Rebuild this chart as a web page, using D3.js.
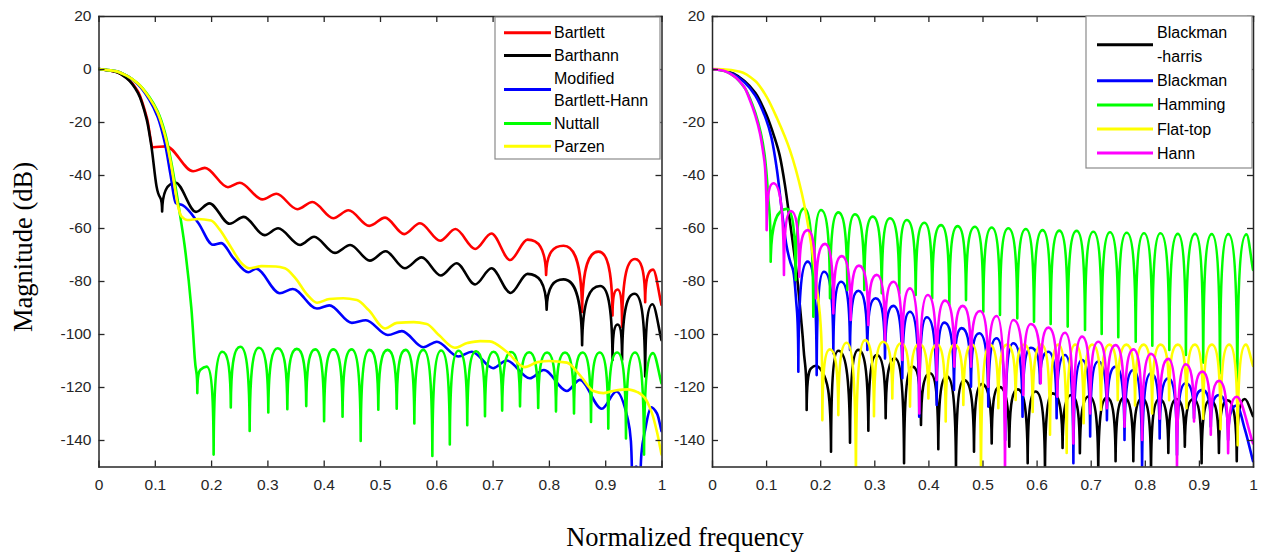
<!DOCTYPE html>
<html><head><meta charset="utf-8">
<script src="https://cdn.jsdelivr.net/npm/d3@7"></script>
<style>body{margin:0;background:#fff}svg{display:block}</style>
</head><body>
<svg id="c" width="1265" height="553"></svg>
<script>
// ---------------- data ----------------
const xTicks = [0,0.1,0.2,0.3,0.4,0.5,0.6,0.7,0.8,0.9,1];
const xTickLabels = ["0","0.1","0.2","0.3","0.4","0.5","0.6","0.7","0.8","0.9","1"];
const yTicks = [-140,-120,-100,-80,-60,-40,-20,0,20];
const yTickLabels = ["-140","-120","-100","-80","-60","-40","-20","0","20"];
const xLabel = "Normalized frequency";
const yLabel = "Magnitude (dB)";

const leftLegend = [["Bartlett"],["Barthann"],["Modified","Bartlett-Hann"],["Nuttall"],["Parzen"]];
const leftColors = ["#ff0000","#000000","#0000ff","#00ff00","#ffff00"];
const rightLegend = [["Blackman","-harris"],["Blackman"],["Hamming"],["Flat-top"],["Hann"]];
const rightColors = ["#000000","#0000ff","#00ff00","#ffff00","#ff00ff"];

// [normalized frequency, magnitude dB]
const bartlett = [[0,0],[0.03,-1],[0.05,-3.3],[0.07,-8.5],[0.086,-18.5],[0.097,-29.5],[0.12,-29.2],[0.168,-38.6],[0.189,-37.3],[0.23,-44.6],[0.251,-42.9],[0.291,-49.2],[0.316,-47.1],[0.353,-52.9],[0.38,-50.2],[0.417,-56.3],[0.444,-53.3],[0.481,-59.2],[0.509,-56.1],[0.543,-62.3],[0.571,-58.2],[0.607,-64.8],[0.634,-60.4],[0.669,-67.9],[0.698,-62.1],[0.731,-72.1],[0.762,-64.4],[0.795,-77.7],[0.826,-66.7],[0.859,-91.7],[0.888,-68.9],[0.913,-93],[0.922,-83.2],[0.930,-97.3],[0.953,-71.7],[0.971,-88],[0.985,-75.7],[1.0,-89]];

const barthann = [[0,0],[0.03,-1],[0.05,-3.5],[0.07,-9],[0.0856,-19],[0.094,-29.2],[0.103,-44.2],[0.113,-53.8],[0.137,-42.9],[0.173,-53.9],[0.197,-50.7],[0.233,-58.4],[0.258,-55.8],[0.295,-62.7],[0.319,-60.1],[0.358,-66.4],[0.383,-63.3],[0.42,-69.4],[0.447,-66.4],[0.482,-72.3],[0.51,-68.8],[0.544,-75.2],[0.574,-71.1],[0.608,-77.9],[0.636,-73.3],[0.669,-81.3],[0.698,-75.2],[0.732,-84.5],[0.762,-77.3],[0.796,-90.8],[0.826,-79.4],[0.859,-104.2],[0.891,-81.9],[0.913,-109.8],[0.922,-96.4],[0.930,-109.8],[0.952,-84.8],[0.971,-116],[0.984,-88.8],[1.0,-102.3]];

const modBartlettHann = [[0,0],[0.03,-0.8],[0.05,-2.5],[0.07,-5.8],[0.09,-11.5],[0.105,-18],[0.118,-28],[0.128,-40],[0.137,-50.5],[0.15,-51.5],[0.177,-58],[0.203,-66.3],[0.218,-65.7],[0.24,-71.5],[0.266,-76.7],[0.28,-75.4],[0.322,-84.6],[0.345,-83],[0.388,-90.4],[0.41,-89.2],[0.45,-95.8],[0.475,-94.8],[0.514,-100.4],[0.539,-98.9],[0.577,-105],[0.601,-102.9],[0.639,-108.5],[0.663,-106.7],[0.701,-112.9],[0.725,-110],[0.766,-116.7],[0.791,-113.6],[0.832,-121.5],[0.855,-117.3],[0.894,-128.2],[0.92,-121.7],[0.94,-132],[0.948,-165],[0.955,-150],[0.962,-165],[0.972,-135],[0.982,-127.7],[0.992,-130],[1.0,-136.7]];

const nuttall = [[0,0],[0.03,-0.8],[0.05,-2.5],[0.07,-5.5],[0.09,-10.5],[0.105,-16],[0.118,-24],[0.13,-36],[0.141,-50],[0.153,-66.7],[0.165,-90.4],[0.171,-109.2],[0.1755,-122.3],[0.181,-113.5],[0.192,-112.3],[0.2045,-145.5],[0.2198,-106.7],[0.235,-127.7],[0.2518,-104.8],[0.2685,-136.6],[0.2851,-105.2],[0.3016,-129.6],[0.3185,-105.4],[0.3354,-128.4],[0.3522,-105.6],[0.369,-127.2],[0.3849,-105.8],[0.4007,-132.9],[0.4171,-105.8],[0.4335,-131.2],[0.4496,-105.8],[0.4657,-140.4],[0.4814,-106],[0.497,-128.6],[0.5134,-106],[0.5297,-128.2],[0.5454,-106],[0.561,-133.8],[0.577,-106],[0.593,-146],[0.6085,-106.2],[0.624,-141.7],[0.6395,-106.3],[0.655,-134.4],[0.6708,-106.5],[0.6865,-131],[0.7018,-106.7],[0.717,-128.9],[0.7329,-106.8],[0.7487,-127.3],[0.7649,-106.9],[0.781,-127.9],[0.7968,-107],[0.8126,-129.2],[0.8286,-107],[0.8446,-130],[0.8597,-107],[0.8748,-133.2],[0.8902,-107],[0.9055,-135.7],[0.9212,-107],[0.9369,-139.4],[0.953,-107],[0.969,-145.5],[0.985,-107.2],[1.0,-118.6]];

const parzen = [[0,0],[0.03,-0.8],[0.05,-2.5],[0.07,-5.5],[0.09,-10.8],[0.105,-16.5],[0.118,-25],[0.128,-35],[0.135,-44],[0.141,-51.5],[0.147,-55.5],[0.158,-57],[0.177,-56.6],[0.2,-57.2],[0.215,-60.5],[0.236,-67.5],[0.255,-73.5],[0.268,-75.2],[0.29,-74.4],[0.315,-74.5],[0.331,-75.2],[0.35,-79],[0.37,-85],[0.388,-88.2],[0.41,-86.8],[0.435,-86.5],[0.459,-87.2],[0.48,-91],[0.509,-97.9],[0.53,-95.8],[0.56,-95.5],[0.583,-96.2],[0.605,-100.5],[0.633,-105.2],[0.655,-103.4],[0.678,-102.7],[0.695,-102.8],[0.725,-106.7],[0.757,-112.5],[0.78,-110.6],[0.8,-110.2],[0.832,-110.8],[0.855,-115.5],[0.879,-121.5],[0.897,-122.3],[0.92,-121.2],[0.94,-120.9],[0.958,-122],[0.97,-124],[0.982,-129.2],[0.992,-137],[1.0,-145.5]];

const blackmanHarris = [[0,0],[0.02,-0.4],[0.04,-1.8],[0.06,-4.5],[0.08,-9],[0.1,-17],[0.115,-25.5],[0.125,-32.5],[0.135,-44],[0.145,-59],[0.1565,-77],[0.165,-95],[0.169,-104.8],[0.175,-128.7],[0.183,-113],[0.192,-112],[0.203,-114],[0.22,-144.4],[0.2335,-106.3],[0.2551,-141],[0.2705,-106],[0.289,-136.5],[0.3045,-107.9],[0.321,-131.8],[0.338,-109.2],[0.355,-148.8],[0.3707,-112.3],[0.3863,-134.3],[0.403,-114.8],[0.4183,-143.5],[0.434,-116],[0.451,-152],[0.466,-117.4],[0.4843,-144.4],[0.499,-118.9],[0.517,-141.3],[0.531,-119.9],[0.5495,-142.5],[0.565,-120.9],[0.5835,-148.8],[0.598,-121.7],[0.6155,-152],[0.63,-122.4],[0.648,-143],[0.664,-123],[0.68,-145],[0.697,-123.5],[0.714,-152],[0.73,-124],[0.746,-148],[0.762,-124],[0.7788,-148],[0.795,-124.3],[0.8115,-152],[0.827,-124.5],[0.8435,-144.9],[0.859,-124.5],[0.874,-142.5],[0.89,-124.5],[0.905,-148.8],[0.921,-124.8],[0.937,-144.9],[0.953,-125],[0.97,-148],[0.985,-124.5],[1.0,-131]];

const blackman = [[0,0],[0.02,-0.5],[0.04,-2],[0.06,-5],[0.08,-10],[0.1,-19],[0.11,-26],[0.12,-38],[0.13,-55],[0.138,-67],[0.145,-73],[0.15,-76],[0.155,-86],[0.1596,-114.2],[0.1769,-72.7],[0.1935,-115.5],[0.207,-76.5],[0.2243,-107.3],[0.2385,-80.3],[0.2551,-106],[0.2705,-83.7],[0.2871,-106],[0.3026,-86.5],[0.3198,-109.2],[0.3351,-89.4],[0.3518,-116.7],[0.366,-91.6],[0.383,-131.2],[0.397,-93.7],[0.4153,-126.8],[0.4294,-95.7],[0.4473,-121.1],[0.4615,-97.8],[0.4787,-119.9],[0.494,-99.7],[0.5107,-127.4],[0.526,-101.6],[0.542,-140],[0.557,-103.5],[0.574,-131.2],[0.5896,-105.2],[0.6063,-118.6],[0.6217,-106.7],[0.637,-131.8],[0.6525,-107.9],[0.668,-148.8],[0.684,-109.8],[0.699,-138.7],[0.714,-110.4],[0.73,-132.5],[0.746,-112.3],[0.7625,-140],[0.779,-113.6],[0.795,-152],[0.8115,-114.8],[0.8275,-139.4],[0.8435,-116.7],[0.8595,-145.7],[0.8756,-118.6],[0.891,-131.8],[0.9063,-121.1],[0.922,-135],[0.9372,-123],[0.954,-140],[0.97,-127],[0.985,-136],[1.0,-148]];

const hamming = [[0,0],[0.02,-0.6],[0.04,-2.6],[0.06,-7],[0.07,-11],[0.08,-16.5],[0.09,-24],[0.097,-32],[0.1035,-47],[0.1085,-72.7],[0.138,-52.8],[0.1547,-79.6],[0.1706,-52.6],[0.1873,-93.5],[0.2015,-53.2],[0.2181,-86.5],[0.2335,-54.1],[0.2501,-83.4],[0.2643,-54.8],[0.2815,-83.4],[0.297,-55.7],[0.3137,-84.6],[0.329,-56.3],[0.3462,-84.6],[0.36,-57],[0.3765,-85.3],[0.3925,-58],[0.407,-86.5],[0.4233,-58.9],[0.4387,-89],[0.454,-59.3],[0.4695,-87.2],[0.486,-59.5],[0.5015,-91.6],[0.517,-59.8],[0.5323,-92.8],[0.5477,-60.1],[0.5643,-94.1],[0.58,-60.4],[0.5952,-95.4],[0.611,-60.8],[0.626,-96.2],[0.642,-61],[0.6575,-97.2],[0.674,-61.1],[0.6895,-98.5],[0.7048,-61.4],[0.7203,-100],[0.7357,-61.6],[0.751,-101.2],[0.7665,-61.8],[0.7832,-102.9],[0.7985,-62],[0.8139,-104.4],[0.829,-62],[0.8453,-106],[0.861,-62.2],[0.876,-107.9],[0.893,-62.2],[0.908,-110.8],[0.9237,-62.3],[0.939,-114.8],[0.9544,-62.3],[0.971,-120.5],[0.988,-62.4],[1.0,-75.8]];

const flatTop = [[0,0],[0.02,-0.1],[0.052,-1],[0.08,-4.5],[0.101,-10.5],[0.12,-18.5],[0.144,-30.6],[0.166,-46.9],[0.184,-67],[0.1965,-87.2],[0.201,-97.2],[0.204,-132.5],[0.218,-105.8],[0.2335,-130.6],[0.249,-103.3],[0.266,-155],[0.283,-102.3],[0.2994,-131],[0.3167,-102.9],[0.3333,-124.3],[0.3497,-103.5],[0.366,-127.4],[0.383,-103.8],[0.4,-124.3],[0.416,-104],[0.432,-133],[0.4483,-104],[0.4646,-126.8],[0.481,-104],[0.4972,-155],[0.5133,-104],[0.5293,-128],[0.5453,-104],[0.5613,-124.9],[0.577,-104],[0.5928,-129.4],[0.6088,-104],[0.6248,-138],[0.6402,-104],[0.6556,-144.9],[0.6713,-104],[0.687,-133.7],[0.703,-104],[0.719,-128.6],[0.7345,-104],[0.75,-125],[0.766,-104],[0.782,-127],[0.7978,-104],[0.8135,-130],[0.8293,-104],[0.845,-125],[0.861,-104],[0.877,-128],[0.8925,-104],[0.908,-132],[0.924,-104],[0.94,-135.9],[0.956,-104],[0.9717,-142],[0.987,-104],[1.0,-112]];

const hann = [[0,0],[0.02,-0.6],[0.04,-2.6],[0.06,-7],[0.07,-11.7],[0.08,-17.5],[0.0887,-24.3],[0.095,-32],[0.098,-37],[0.1,-46],[0.101,-60.8],[0.1134,-43.1],[0.133,-77.7],[0.146,-53.6],[0.1614,-78.4],[0.1769,-60.8],[0.1922,-86.5],[0.2089,-66],[0.2243,-92.2],[0.2397,-70.6],[0.2564,-94.7],[0.2717,-74.2],[0.2889,-96.6],[0.3045,-77.7],[0.3198,-102.3],[0.3351,-80.3],[0.3518,-109.8],[0.366,-82.8],[0.3832,-130],[0.3987,-85.3],[0.4153,-117.4],[0.4307,-87.4],[0.4479,-112.3],[0.4634,-89.4],[0.4787,-112.3],[0.4954,-91.3],[0.5107,-119.9],[0.5262,-93.2],[0.5416,-155],[0.557,-94.7],[0.5755,-123],[0.5896,-96.2],[0.6076,-118.6],[0.6217,-97.6],[0.6383,-123.7],[0.6525,-99.5],[0.668,-141.3],[0.684,-101],[0.699,-130],[0.714,-102.9],[0.73,-128],[0.746,-104.2],[0.7625,-135],[0.779,-105.8],[0.795,-140],[0.8115,-107.5],[0.8275,-132],[0.8435,-109.4],[0.8595,-152],[0.8756,-111.4],[0.891,-133],[0.9063,-114.2],[0.922,-138],[0.9372,-117.7],[0.954,-145],[0.97,-123.7],[1.0,-141.3]];

const leftSeries = [bartlett, barthann, modBartlettHann, nuttall, parzen];
const rightSeries = [blackmanHarris, blackman, hamming, flatTop, hann];

// ---------------- drawing ----------------
const svg = d3.select("#c");
const y = d3.scaleLinear().domain([-150, 20]).range([466.5, 16]);
const axisColor = "#262626";
const tickFont = "'Liberation Sans', Arial, sans-serif";
const serif = "'Liberation Serif', 'Times New Roman', serif";

// curve: smooth (monotone-like) with sharp cusps at deep nulls
function CurveLobes(ctx) { this._ctx = ctx; }
CurveLobes.prototype = {
  areaStart() {}, areaEnd() {},
  lineStart() { this._p = []; },
  point(px, py) { this._p.push([+px, +py]); },
  lineEnd() {
    const p = this._p, n = p.length, c = this._ctx;
    if (!n) return;
    const T = y(-8) - y(0);
    const cusp = p.map((d, i) => i > 0 && i < n - 1 && d[1] - p[i-1][1] > T && d[1] - p[i+1][1] > T);
    const sl = i => (p[i+1][1] - p[i][1]) / (p[i+1][0] - p[i][0]);
    const m = p.map((d, i) => {
      if (n < 2) return 0;
      if (i === 0) return sl(0);
      if (i === n - 1) return sl(n - 2);
      const s0 = sl(i - 1), s1 = sl(i);
      if (s0 * s1 <= 0) return 0;
      return 2 * s0 * s1 / (s0 + s1);
    });
    c.moveTo(p[0][0], p[0][1]);
    for (let i = 0; i < n - 1; i++) {
      const [x0, y0] = p[i], [x1, y1] = p[i+1], dx = x1 - x0;
      let c1, c2;
      if (cusp[i]) c1 = [x0 + 0.03 * dx, y0 + 0.8 * (y1 - y0)];
      else { const k = cusp[i+1] ? 0.55 : 1/3; c1 = [x0 + k * dx, y0 + m[i] * k * dx]; }
      if (cusp[i+1]) c2 = [x1 - 0.03 * dx, y1 + 0.8 * (y0 - y1)];
      else { const k = cusp[i] ? 0.55 : 1/3; c2 = [x1 - k * dx, y1 - m[i+1] * k * dx]; }
      const lo = Math.min(y0, y1), hi = Math.max(y0, y1);
      c1[1] = Math.max(lo, Math.min(hi, c1[1]));
      c2[1] = Math.max(lo, Math.min(hi, c2[1]));
      c.bezierCurveTo(c1[0], c1[1], c2[0], c2[1], x1, y1);
    }
  }
};
const curveLobes = ctx => new CurveLobes(ctx);

function panel(id, x0, x1, series, colors, legend, leg) {
  const x = d3.scaleLinear().domain([0, 1]).range([x0, x1]);
  const top = y(20), bot = y(-150);
  svg.append("clipPath").attr("id", "clip" + id)
    .append("rect").attr("x", x0).attr("y", top).attr("width", x1 - x0).attr("height", bot - top);
  const g = svg.append("g");
  const lines = g.append("g").attr("clip-path", `url(#clip${id})`);
  const line = d3.line().x(d => x(d[0])).y(d => y(d[1])).curve(curveLobes);
  series.forEach((s, i) => {
    lines.append("path").attr("d", line(s)).attr("fill", "none")
      .attr("stroke", colors[i]).attr("stroke-width", 2.6)
      .attr("stroke-linejoin", "round").attr("stroke-linecap", "round");
  });

  const fmtX = (d) => xTickLabels[xTicks.indexOf(d)];
  const fmtY = (d) => yTickLabels[yTicks.indexOf(d)];
  const style = sel => {
    sel.selectAll("path.domain").attr("stroke", axisColor).attr("stroke-width", 1.5);
    sel.selectAll(".tick line").attr("stroke", axisColor).attr("stroke-width", 1.3);
    sel.selectAll("text").attr("fill", axisColor).style("font-family", tickFont).style("font-size", "15.5px");
  };
  g.append("g").attr("transform", `translate(0,${bot})`)
    .call(d3.axisBottom(x).tickValues(xTicks).tickFormat(fmtX).tickSizeInner(-6).tickSizeOuter(0).tickPadding(12)).call(style);
  g.append("g").attr("transform", `translate(0,${top})`)
    .call(d3.axisTop(x).tickValues(xTicks).tickFormat("").tickSizeInner(-6).tickSizeOuter(0)).call(style);
  g.append("g").attr("transform", `translate(${x0},0)`)
    .call(d3.axisLeft(y).tickValues(yTicks).tickFormat(fmtY).tickSizeInner(-6).tickSizeOuter(0).tickPadding(7)).call(style);
  g.append("g").attr("transform", `translate(${x1},0)`)
    .call(d3.axisRight(y).tickValues(yTicks).tickFormat("").tickSizeInner(-6).tickSizeOuter(0)).call(style);
  g.selectAll(".domain").attr("stroke-linecap", "square");

  // legend
  const lg = g.append("g");
  lg.append("rect").attr("x", leg.x).attr("y", leg.y).attr("width", leg.w).attr("height", leg.h)
    .attr("fill", "#fff").attr("stroke", "#8a8a8a").attr("stroke-width", 1.2);
  let row = 0;
  legend.forEach((lines_, i) => {
    const yc = leg.row0 + (row + (lines_.length - 1) / 2) * leg.pitch;
    lg.append("line").attr("x1", leg.lx0).attr("x2", leg.lx1).attr("y1", yc).attr("y2", yc)
      .attr("stroke", colors[i]).attr("stroke-width", 3);
    lines_.forEach((t, k) => {
      lg.append("text").attr("x", leg.tx).attr("y", leg.row0 + (row + k) * leg.pitch)
        .attr("dy", "0.35em").attr("fill", "#000")
        .style("font-family", tickFont).style("font-size", "16px").text(t);
    });
    row += lines_.length;
  });
}

panel("L", 98.5, 661.5, leftSeries, leftColors, leftLegend,
  {x: 495, y: 17, w: 165, h: 142, lx0: 504, lx1: 551, tx: 554, row0: 32.7, pitch: 22.7});
panel("R", 712, 1253, rightSeries, rightColors, rightLegend,
  {x: 1086, y: 16, w: 166, h: 152, lx0: 1097, lx1: 1153, tx: 1157, row0: 32.7, pitch: 24.06});

svg.append("text").attr("x", 685).attr("y", 546).attr("text-anchor", "middle")
  .style("font-family", serif).style("font-size", "26.5px")
  .attr("fill", "#000").text(xLabel);
svg.append("text").attr("transform", "translate(32,247) rotate(-90)").attr("text-anchor", "middle")
  .style("font-family", serif).style("font-size", "26.5px")
  .attr("fill", "#000").text(yLabel);
</script>
</body></html>
